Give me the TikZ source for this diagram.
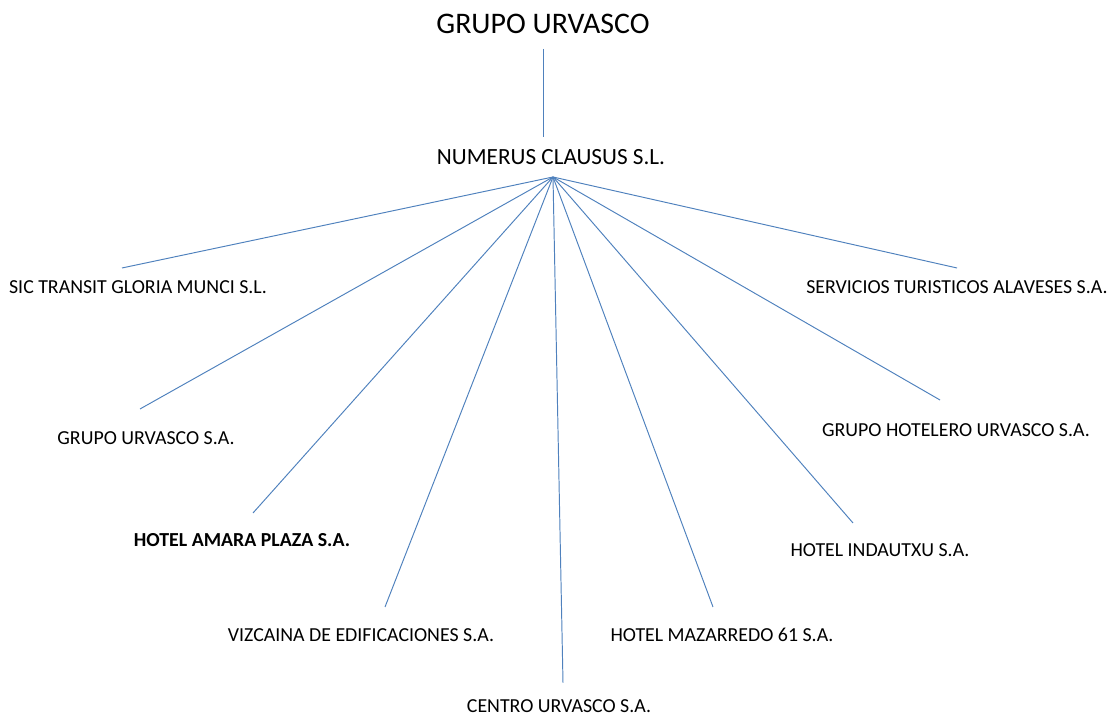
\documentclass[tikz,border=0pt]{standalone}
\usepackage{fontspec}
\setmainfont{Carlito}
\usepackage{tikz}
\usetikzlibrary{positioning,calc}
\definecolor{linkblue}{RGB}{79,129,189}

\begin{document}
\begin{tikzpicture}[
  firm/.style={font=\fontsize{11.3}{13}\selectfont, inner sep=1pt},
  link/.style={draw=linkblue, line width=0.55pt}
]
\useasboundingbox (0,0) rectangle (22.22,14.36);
% Top of the group
\node[font=\fontsize{17}{20}\selectfont, inner sep=1pt] (title) at (10.86,13.88) {GRUPO URVASCO};
\node[font=\fontsize{13.2}{15}\selectfont, inner sep=1pt] (numerus) at (11.02,11.22) {NUMERUS CLAUSUS S.L.};
\coordinate (hub) at (11.06,10.82);
\coordinate (top-start) at (10.87,13.38);
\coordinate (top-end) at (10.87,11.62);
\draw[link] (top-start) -- (top-end);

% Companies
\node[firm] (sic) at (2.76,8.62) {SIC TRANSIT GLORIA MUNCI S.L.};
\node[firm] (grupo) at (2.92,5.60) {GRUPO URVASCO S.A.};
\node[firm, font=\fontsize{11.3}{13}\selectfont\bfseries] (amara) at (4.84,3.56) {HOTEL AMARA PLAZA S.A.};
\node[firm] (vizcaina) at (7.22,1.66) {VIZCAINA DE EDIFICACIONES S.A.};
\node[firm, inner sep=0pt] (centro) at (11.18,0.24) {CENTRO URVASCO S.A.};
\node[firm] (mazarredo) at (14.44,1.66) {HOTEL MAZARREDO 61 S.A.};
\node[firm] (indautxu) at (17.60,3.36) {HOTEL INDAUTXU S.A.};
\node[firm] (hotelero) at (19.12,5.76) {GRUPO HOTELERO URVASCO S.A.};
\node[firm] (servicios) at (19.14,8.62) {SERVICIOS TURISTICOS ALAVESES S.A.};

% Line ends
\coordinate (sic-end) at (2.44,9.00);
\coordinate (grupo-end) at (2.80,6.18);
\coordinate (amara-end) at (5.06,4.10);
\coordinate (vizcaina-end) at (7.70,2.22);
\coordinate (centro-end) at (11.26,0.70);
\coordinate (mazarredo-end) at (14.26,2.22);
\coordinate (indautxu-end) at (17.06,3.90);
\coordinate (hotelero-end) at (18.80,6.36);
\coordinate (servicios-end) at (19.14,9.00);

% Links
\draw[link] (hub) -- (sic-end);
\draw[link] (hub) -- (grupo-end);
\draw[link] (hub) -- (amara-end);
\draw[link] (hub) -- (vizcaina-end);
\draw[link] (hub) -- (centro-end);
\draw[link] (hub) -- (mazarredo-end);
\draw[link] (hub) -- (indautxu-end);
\draw[link] (hub) -- (hotelero-end);
\draw[link] (hub) -- (servicios-end);
\end{tikzpicture}
\end{document}
